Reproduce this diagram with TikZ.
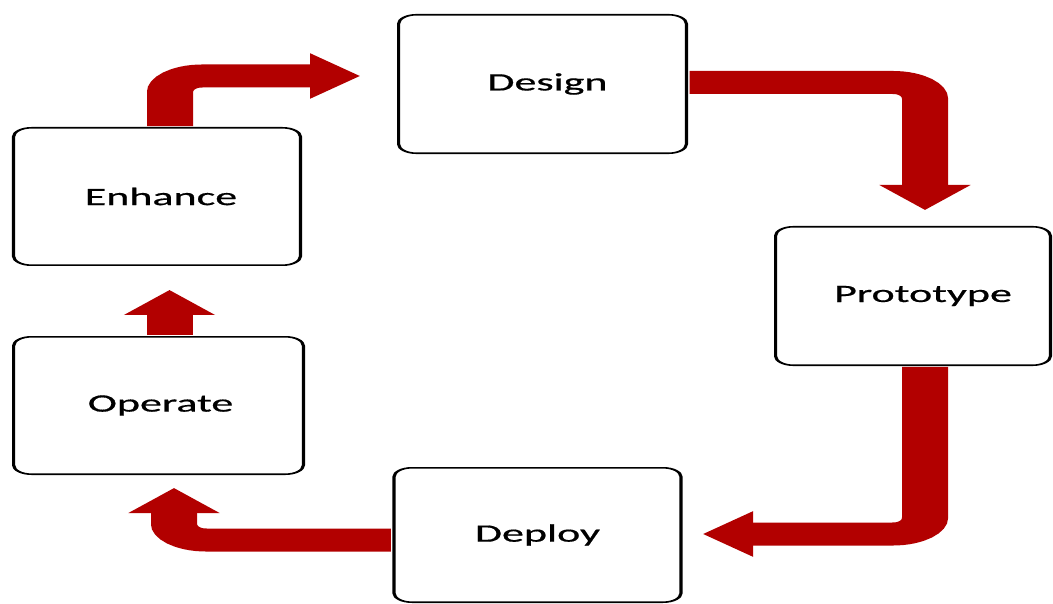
\documentclass[tikz,border=0pt]{standalone}
\usepackage{fontspec}
\newfontfamily\boxfont[FakeBold=0.5]{Carlito}
\usetikzlibrary{arrows.meta,calc}
\definecolor{flowred}{RGB}{178,0,0}
\tikzset{
  stage/.style={draw=black, line width=1.6pt, rounded corners=9pt, fill=white,
    minimum width=143.5pt, minimum height=138.5pt, inner sep=0pt,
    font=\boxfont\fontsize{25}{29}\selectfont},
  flow/.style={draw=flowred, line width=23pt, rounded corners=16pt,
    shorten <=0.8pt, -{Triangle[length=25pt,width=44pt]}},
}
% label text, narrowed, optionally nudged to the right
\newcommand\stagetext[2][0pt]{\hspace*{#1}\scalebox{0.88}[1]{#2}}

\begin{document}
\begin{tikzpicture}
\useasboundingbox[fill=white] (0,0) rectangle (1053pt,-604pt);
% the whole cycle is drawn on a canvas stretched twice as wide
\begin{scope}[transform canvas={xscale=2}, x=0.5pt, y=-1pt]
  \node[stage, minimum width=143.9pt] (design) at (542.5,84) {\stagetext[5pt]{Design}};
  \node[stage, minimum width=137.4pt] (prototype) at (913,296) {\stagetext[10pt]{\raisebox{-2pt}{Prototype}}};
  \node[stage, minimum height=134.4pt] (deploy) at (537.5,535) {\stagetext{Deploy}};
  \node[stage, minimum width=144.9pt, minimum height=137.4pt] (operate) at (158.5,405.5) {\stagetext[2pt]{Operate}};
  \node[stage, minimum height=137.4pt] (enhance) at (157,196.5) {\stagetext[4pt]{Enhance}};

  % free ends of the connectors
  \coordinate (toDesign) at (360,76);
  \coordinate (toPrototype) at (925,210);
  \coordinate (toDeploy) at (703,534);
  \coordinate (toOperate) at (174,488);
  \coordinate (toEnhance) at (169.5,290);

  \draw[flow] ($(enhance.north)+(13,0)$) |- (toDesign);
  \draw[flow] ($(design.east)+(0,-1.5)$) -| (toPrototype);
  \draw[flow] ($(prototype.south)+(12,0)$) |- (toDeploy);
  \draw[flow] ($(deploy.west)+(0,5)$) -| (toOperate);
  \draw[flow] ($(operate.north)+(11,0)$) -- (toEnhance);
\end{scope}
\end{tikzpicture}
\end{document}
